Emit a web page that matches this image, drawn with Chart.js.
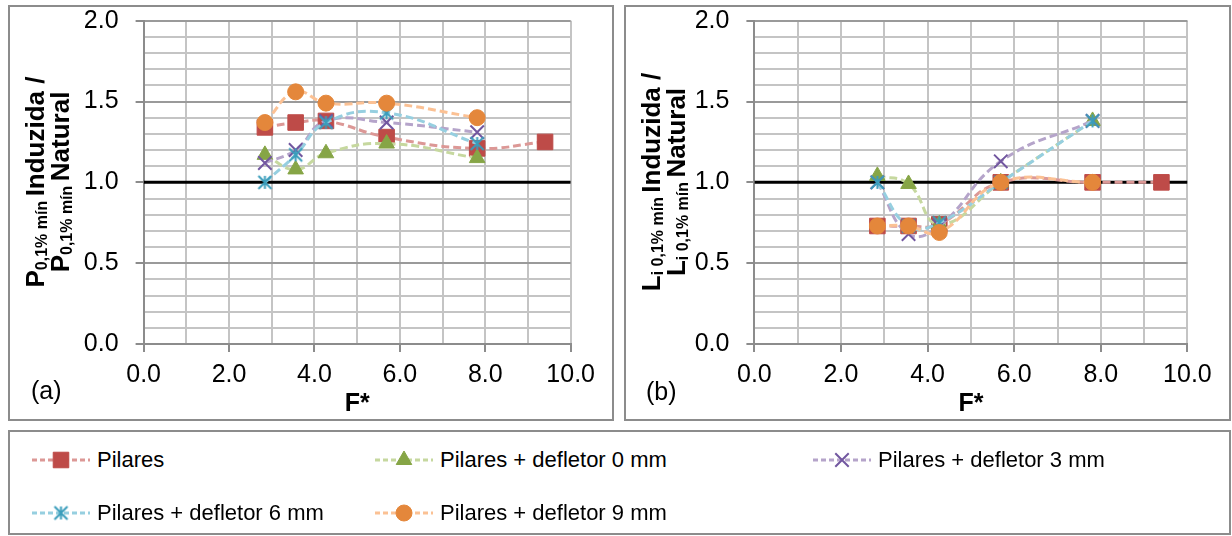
<!DOCTYPE html>
<html>
<head>
<meta charset="utf-8">
<title>Pressão e comprimento induzidos</title>
<script src="https://cdn.jsdelivr.net/npm/chart.js"></script>
<style>
    body {
        margin: 0;
        width: 1232px;
        height: 536px;
        background: #fff;
        position: relative;
        overflow: hidden;
        font-family: "Liberation Sans", Arial, sans-serif;
    }
    .panel {
        position: absolute;
        box-sizing: border-box;
        border: 2px solid #8c8c8c;
        background: #fff;
    }
    .panel canvas {
        position: absolute;
        left: 0;
        top: 0;
    }
    #panelA { left: 8px; top: 5px; width: 606px; height: 416px; }
    #panelB { left: 624px; top: 5px; width: 607px; height: 416px; }
    #legend { left: 8px; top: 430px; width: 1223px; height: 105px; }
    #legendGrid {
        position: absolute;
        left: 22px;
        top: 1px;
        display: grid;
        grid-template-columns: 343px 438px auto;
        grid-auto-rows: 53px;
        align-items: center;
    }
    .item {
        display: flex;
        align-items: center;
        font-size: 22px;
        color: #000;
        white-space: nowrap;
    }
    .item canvas {
        position: static;
        margin-right: 7px;
    }
</style>
</head>
<body>
<div id="panelA" class="panel"><canvas id="chartP" width="602" height="412"></canvas></div>
<div id="panelB" class="panel"><canvas id="chartL" width="603" height="412"></canvas></div>
<div id="legend" class="panel"><div id="legendGrid"></div></div>

<script>
// F* of each test
const fStar = [2.84, 3.56, 4.27, 5.69, 7.81, 9.40];

// (a) P 0,1% mín induzida / natural
const pPilares = [1.34, 1.37, 1.38, 1.28, 1.21, 1.25];
const pDef0 = [1.17, 1.08, 1.18, 1.24, 1.15];
const pDef3 = [1.12, 1.20, 1.38, 1.37, 1.31];
const pDef6 = [1.00, 1.17, 1.37, 1.43, 1.24];
const pDef9 = [1.37, 1.56, 1.49, 1.49, 1.40];

// (b) Li 0,1% mín induzida / natural
const lPilares = [0.73, 0.73, 0.74, 1.00, 1.00, 1.00];
const lDef0 = [1.04, 0.99, 0.74, 1.00, 1.38];
const lDef3 = [1.00, 0.68, 0.73, 1.13, 1.38];
const lDef6 = [1.00, 0.73, 0.75, 1.00, 1.38];
const lDef9 = [0.73, 0.73, 0.69, 1.00, 1.00];

// ratio = 1 reference line
const refX = [0, 10];
const refY = [1, 1];

const seriesNames = [
    'Pilares',
    'Pilares + defletor 0 mm',
    'Pilares + defletor 3 mm',
    'Pilares + defletor 6 mm',
    'Pilares + defletor 9 mm'
];
const xTickLabels = [0, 2, 4, 6, 8, 10];
const yTickLabels = [0, 0.5, 1, 1.5, 2];

Chart.defaults.font.family = '"Liberation Sans", Arial, sans-serif';
Chart.defaults.color = '#000';

// asterisk marker (vertical bar + X)
function starMarker(color, half) {
    const c = document.createElement('canvas');
    const s = Math.ceil(half * 2 + 4);
    c.width = s;
    c.height = s;
    const g = c.getContext('2d');
    const m = s / 2;
    g.strokeStyle = color;
    g.lineWidth = 2;
    g.beginPath();
    g.moveTo(m, m - half); g.lineTo(m, m + half);
    g.moveTo(m - half, m - half); g.lineTo(m + half, m + half);
    g.moveTo(m + half, m - half); g.lineTo(m - half, m + half);
    g.stroke();
    return c;
}

const styles = [
    { line: '#dc9896', mark: '#be4b48', shape: 'rect', r: 11, bw: 1 },
    { line: '#c6d89f', mark: '#86a546', shape: 'triangle', r: 9, bw: 1 },
    { line: '#b5a4ca', mark: '#7257a0', shape: 'crossRot', r: 9.5, bw: 2 },
    { line: '#96cfe0', mark: '#3a9dbb', shape: starMarker('#3a9dbb', 6.5), r: 7, bw: 2 },
    { line: '#fbc194', mark: '#e4873b', shape: 'circle', r: 8, bw: 1 }
];

function buildDatasets(seriesValues) {
    const sets = seriesValues.map((vals, i) => {
        const st = styles[i];
        return {
            label: seriesNames[i],
            data: vals.map((v, k) => ({ x: fStar[k], y: v })),
            borderColor: st.line,
            borderWidth: 3,
            borderDash: [8, 4],
            tension: 0.45,
            fill: false,
            pointStyle: st.shape,
            pointRadius: st.r,
            pointBackgroundColor: st.mark,
            pointBorderColor: st.mark,
            pointBorderWidth: st.bw,
            order: seriesValues.length - i
        };
    });
    sets.push({
        label: 'ref',
        data: refX.map((x, k) => ({ x: x, y: refY[k] })),
        borderColor: '#000',
        borderWidth: 3,
        pointRadius: 0,
        order: 10
    });
    return sets;
}

function isMajorY(v) {
    return yTickLabels.some(t => Math.abs(t - v) < 1e-6);
}

function isMajorX(v) {
    return xTickLabels.some(t => Math.abs(t - v) < 1e-6);
}

// rotated y title with subscripts + panel letter
function makeTitlePlugin(cfg) {
    return {
        id: 'axisTitle',
        afterDraw(chart) {
            const ctx = chart.ctx;
            ctx.save();
            ctx.fillStyle = '#000';
            ctx.font = '25px "Liberation Sans"';
            ctx.textAlign = 'left';
            ctx.textBaseline = 'middle';
            ctx.fillText(cfg.panel, cfg.panelX, cfg.panelY);

            ctx.textBaseline = 'alphabetic';
            const mainFont = 'bold 26px "Liberation Sans"';
            const subFont = 'bold 16px "Liberation Sans"';
            cfg.lines.forEach((parts, li) => {
                let total = 0;
                parts.forEach(([t, sub]) => {
                    ctx.font = sub ? subFont : mainFont;
                    total += ctx.measureText(t).width;
                });
                ctx.save();
                ctx.translate(cfg.baseX[li], cfg.centerY);
                ctx.rotate(-Math.PI / 2);
                let pos = -total / 2;
                parts.forEach(([t, sub]) => {
                    ctx.font = sub ? subFont : mainFont;
                    ctx.fillText(t, pos, sub ? 3 : 0);
                    pos += ctx.measureText(t).width;
                });
                ctx.restore();
            });
            ctx.restore();
        }
    };
}

function makeChart(canvasId, seriesValues, yAxisWidth, padRight, titleCfg) {
    const ctx = document.getElementById(canvasId).getContext('2d');
    return new Chart(ctx, {
        type: 'line',
        data: { datasets: buildDatasets(seriesValues) },
        options: {
            responsive: false,
            animation: false,
            events: [],
            layout: { padding: { top: 13.7, right: padRight, left: 0, bottom: 0 } },
            plugins: {
                legend: { display: false },
                tooltip: { enabled: false }
            },
            scales: {
                x: {
                    type: 'linear',
                    min: 0,
                    max: 10,
                    afterFit: s => {
                        s.height = 75;
                        s.paddingLeft = 0;
                        s.paddingRight = 0;
                    },
                    ticks: {
                        stepSize: 1,
                        autoSkip: false,
                        maxRotation: 0,
                        padding: 10.5,
                        color: '#000',
                        font: { size: 25, lineHeight: 1 },
                        callback: v => isMajorX(v) ? v.toFixed(1) : ''
                    },
                    grid: {
                        color: '#c4c4c4',
                        lineWidth: 2,
                        tickLength: 8,
                        tickColor: c => isMajorX(c.tick.value) ? '#8c8c8c' : 'rgba(0,0,0,0)'
                    },
                    border: { color: '#8c8c8c', width: 2 },
                    title: {
                        display: true,
                        text: 'F*',
                        color: '#000',
                        font: { size: 25, weight: 'bold', lineHeight: 1 },
                        padding: { top: 0, bottom: 2.5 }
                    }
                },
                y: {
                    type: 'linear',
                    min: 0,
                    max: 2,
                    afterFit: s => {
                        s.width = yAxisWidth;
                        s.paddingTop = 0;
                        s.paddingBottom = 0;
                    },
                    ticks: {
                        stepSize: 0.1,
                        autoSkip: false,
                        padding: 17,
                        color: '#000',
                        font: { size: 25, lineHeight: 1 },
                        callback: v => isMajorY(v) ? v.toFixed(1) : ''
                    },
                    grid: {
                        color: c => isMajorY(c.tick.value) ? '#9a9a9a' : '#c4c4c4',
                        lineWidth: 2,
                        tickLength: 8,
                        tickColor: c => isMajorY(c.tick.value) ? '#8c8c8c' : 'rgba(0,0,0,0)'
                    },
                    border: { color: '#8c8c8c', width: 2 }
                }
            }
        },
        plugins: [makeTitlePlugin(titleCfg)]
    });
}

makeChart('chartP', [pPilares, pDef0, pDef3, pDef6, pDef9], 133.6, 41.3, {
    panel: '(a)', panelX: 21, panelY: 385,
    baseX: [34, 59], centerY: 175,
    lines: [
        [['P', 0], ['0,1% mín ', 1], ['Induzida /', 0]],
        [['P', 0], ['0,1% mín ', 1], ['Natural', 0]]
    ]
});

makeChart('chartL', [lPilares, lDef0, lDef3, lDef6, lDef9], 128.4, 41.6, {
    panel: '(b)', panelX: 20, panelY: 386,
    baseX: [34, 59], centerY: 175,
    lines: [
        [['L', 0], ['i 0,1% mín ', 1], ['Induzida /', 0]],
        [['L', 0], ['i 0,1% mín ', 1], ['Natural', 0]]
    ]
});

// legend: dashed line with the series marker, then the name
const legendGrid = document.getElementById('legendGrid');
seriesNames.forEach((name, i) => {
    const st = styles[i];
    const item = document.createElement('div');
    item.className = 'item';
    const cv = document.createElement('canvas');
    cv.width = 58;
    cv.height = 24;
    const g = cv.getContext('2d');
    g.strokeStyle = st.line;
    g.lineWidth = 3;
    g.setLineDash([5, 3]);
    g.beginPath();
    g.moveTo(0, 12);
    g.lineTo(58, 12);
    g.stroke();
    g.setLineDash([]);
    g.fillStyle = st.mark;
    g.strokeStyle = st.mark;
    g.lineWidth = st.bw;
    Chart.helpers.drawPoint(g, { pointStyle: st.shape, radius: st.r, rotation: 0, borderWidth: st.bw }, 29, 12);
    item.appendChild(cv);
    const span = document.createElement('span');
    span.textContent = name;
    item.appendChild(span);
    legendGrid.appendChild(item);
});
</script>
</body>
</html>
